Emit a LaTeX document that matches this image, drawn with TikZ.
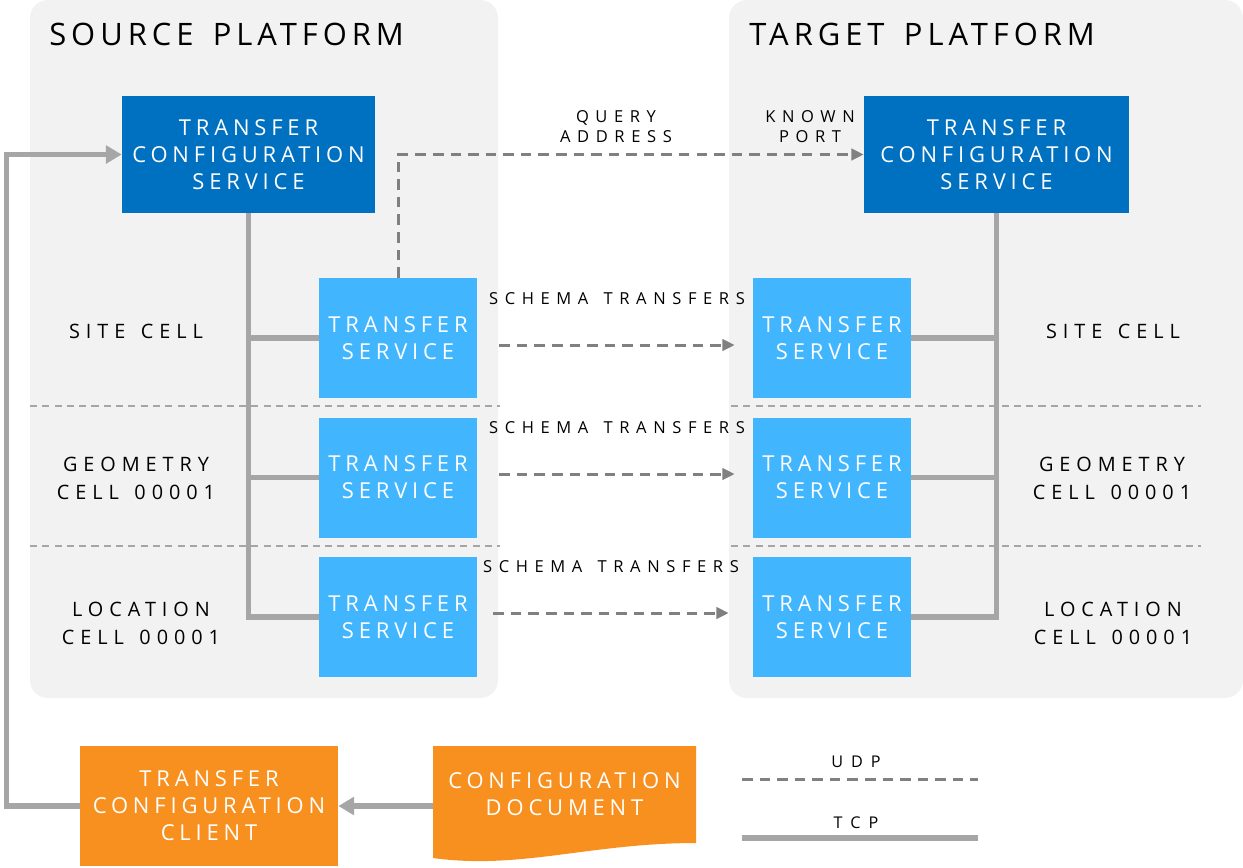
\documentclass[tikz,border=0pt]{standalone}
\usepackage{fontspec}
\setmainfont{Open Sans}
\newfontfamily\titlefont[LetterSpace=16,WordSpace=1.5]{Open Sans}
\newfontfamily\boxfont[LetterSpace=22]{Open Sans}
\newfontfamily\cellfont[LetterSpace=30,WordSpace=1.4]{Open Sans}
\newfontfamily\notefont[LetterSpace=40,WordSpace=1.4]{Open Sans}
\newfontfamily\legendfont[LetterSpace=50]{Open Sans}
\usetikzlibrary{arrows.meta,positioning,calc}

\definecolor{panelgray}{HTML}{F2F2F2}
\definecolor{tcsblue}{HTML}{0070C0}
\definecolor{tsblue}{HTML}{41B6FF}
\definecolor{docorange}{HTML}{F7901E}
\definecolor{tcpgray}{HTML}{A6A6A6}
\definecolor{udpgray}{HTML}{808080}

\tikzset{
	panel/.style={fill=panelgray, rounded corners=0.36cm},
	platformtitle/.style={anchor=west, inner sep=0pt, font=\titlefont\fontsize{17.6}{20}\selectfont},
	box/.style={text=white, align=center, inner sep=0pt, font=\boxfont\fontsize{12.5}{15.3}\selectfont},
	tcsbox/.style={box, fill=tcsblue, minimum height=2.34cm},
	tsbox/.style={box, fill=tsblue, minimum width=3.16cm, minimum height=2.4cm},
	clientbox/.style={box, fill=docorange, minimum width=5.16cm, minimum height=2.4cm},
	cell/.style={align=center, inner sep=0pt, font=\cellfont\fontsize{11.3}{15.9}\selectfont},
	note/.style={align=center, inner sep=0pt, font=\notefont\fontsize{9.4}{11.3}\selectfont},
	legend/.style={inner sep=0pt, font=\legendfont\fontsize{9.2}{10}\selectfont},
	tcp/.style={draw=tcpgray, line width=3.2pt},
	udp/.style={draw=udpgray, line width=1.7pt, dash pattern=on 6pt off 4pt},
	sep/.style={draw=tcpgray, line width=1.1pt, dash pattern=on 4pt off 3pt},
	tcparrow/.style={-{Triangle[length=9pt,width=10pt]}},
	udparrow/.style={-{Triangle[length=7pt,width=6.5pt]}},
}

\begin{document}
\begin{tikzpicture}[x=0.02cm, y=-0.02cm]
	\useasboundingbox (0,0) rectangle (1243,867);

	% platforms
	\fill[panel] (30,0) rectangle (498,698);
	\fill[panel] (729,0) rectangle (1243,698);
	\node[platformtitle] (srcTitle) at (49,34) {SOURCE PLATFORM};
	\node[platformtitle] (tgtTitle) at (749,34) {TARGET PLATFORM};

	% cell separators
	\foreach \y in {406,546} {
		\draw[sep] (30,\y) -- (500,\y);
		\draw[sep] (731,\y) -- (1201,\y);
	}

	% configuration services
	\node[tcsbox, minimum width=5.06cm] (srcTCS) at (248.5,154.5) {TRANSFER\\CONFIGURATION\\SERVICE};
	\node[tcsbox, minimum width=5.3cm] (tgtTCS) at (996.5,154.5) {TRANSFER\\CONFIGURATION\\SERVICE};

	% transfer services
	\foreach \n/\y in {Site/338,Geo/477.5,Loc/617} {
		\node[tsbox] (tsL\n) at (398,\y) {TRANSFER\\SERVICE};
		\node[tsbox] (tsR\n) at (832,\y) {TRANSFER\\SERVICE};
		\draw[tcp] (srcTCS.south) |- (tsL\n.west);
		\draw[tcp] (tgtTCS.south) |- (tsR\n.east);
	}

	% cell labels
	\node[cell] (cellSiteL) at (136,331) {SITE CELL};
	\node[cell] (cellGeoL) at (136,478) {GEOMETRY\\CELL 00001};
	\node[cell] (cellLocL) at (141,623) {LOCATION\\CELL 00001};
	\node[cell] (cellSiteR) at (1113,331) {SITE CELL};
	\node[cell] (cellGeoR) at (1112,478) {GEOMETRY\\CELL 00001};
	\node[cell] (cellLocR) at (1113,623) {LOCATION\\CELL 00001};

	% schema transfers (udp)
	\foreach \n/\dy/\dx in {Site/7/0,Geo/-3.5/0,Loc/-4/-6} {
		\draw[udp, udparrow] ([shift={(22+\dx,\dy)}]tsL\n.east) -- ([shift={(-18+\dx,\dy)}]tsR\n.west)
			node[note, midway, yshift=0.92cm] (schema\n) {SCHEMA TRANSFERS};
	}

	% address query
	\draw[udp, udparrow] (tsLSite.north) |- (tgtTCS.west);
	\node[note] (queryLabel) at (616,127) {QUERY\\ADDRESS};
	\node[note] (portLabel) at (810,127) {KNOWN\\PORT};

	% client and document
	\node[clientbox] (client) at (209,806) {TRANSFER\\CONFIGURATION\\CLIENT};
	\fill[docorange] (433,746) -- (696,746) -- (696,843) .. controls (590,843) and (520,870) .. (433,858) -- cycle;
	\node[box, minimum width=5.26cm] (doc) at (564.5,794) {CONFIGURATION\\DOCUMENT};
	\draw[tcp, tcparrow] (doc.west |- client.east) -- (client.east);
	\draw[tcp, tcparrow] (client.west) -- ++(-73,0) |- (srcTCS.west);

	% legend
	\coordinate (udpA) at (742,779);
	\coordinate (udpB) at (978,779);
	\coordinate (tcpA) at (742,838);
	\coordinate (tcpB) at (978,838);
	\draw[udp] (udpA) -- (udpB);
	\draw[tcp] (tcpA) -- (tcpB);
	\node[legend] (udpLabel) at (856,762) {UDP};
	\node[legend] (tcpLabel) at (856,823) {TCP};
\end{tikzpicture}
\end{document}
